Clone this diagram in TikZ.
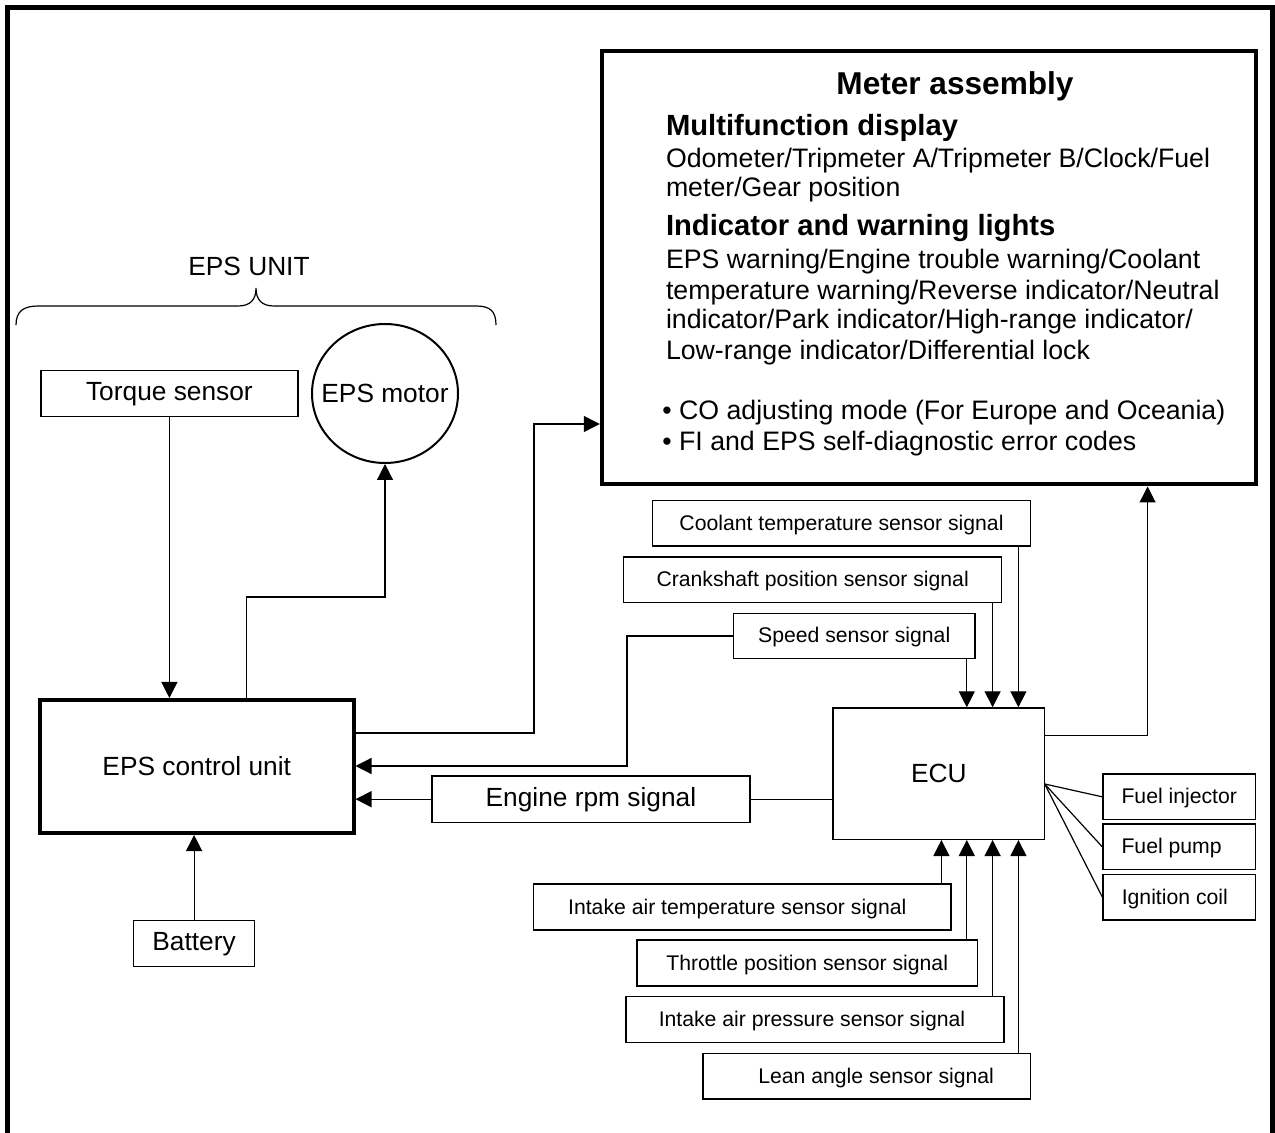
\documentclass[tikz,border=0pt]{standalone}
\usepackage{fontspec}
\setmainfont{Liberation Sans}
\usetikzlibrary{arrows.meta,shapes.geometric}
\newcommand\szbig{\fontsize{13.15}{15}\selectfont}
\newcommand\szsmall{\fontsize{10.6}{12}\selectfont}
\newcommand\szbody{\fontsize{13.35}{15}\selectfont}
\newcommand\szhead{\fontsize{14.6}{17}\selectfont\bfseries}
\newcommand\sztitle{\fontsize{15.8}{18}\selectfont\bfseries}
\begin{document}
\begin{tikzpicture}[x=0.5pt,y=-0.5pt,
  arr/.style={line width=0.6pt,-{Triangle[length=8pt,width=8pt]}},
  conn/.style={line width=0.6pt},
  sbox/.style={draw,line width=0.7pt,inner sep=0pt,text height=0.85em,text depth=0.15em,font=\szsmall,minimum height=22.75pt},
  bbox/.style={draw,line width=0.7pt,inner sep=0pt,text height=0.85em,text depth=0.15em,font=\szbig,minimum height=23pt},
  thickbox/.style={draw,line width=2pt,inner sep=0pt},
  mtext/.style={anchor=base west,inner sep=0pt,font=\szbody},
  mhead/.style={anchor=base west,inner sep=0pt,font=\szhead},
]
\useasboundingbox (0,0) rectangle (1275,1133);
% outer frame
\draw[line width=2.5pt] (7.5,1133) -- (7.5,7.5) -- (1272.5,7.5) -- (1272.5,1133);

% EPS unit brace
\node[font=\szbig,inner sep=0pt] (unit) at (249,266) {EPS UNIT};
\draw[line width=0.6pt] (16,325) .. controls (16,311) and (24,306) .. (38,306) -- (238,306)
  .. controls (250,306) and (256,300) .. (256,288)
  .. controls (256,300) and (262,306) .. (274,306) -- (476,306)
  .. controls (490,306) and (496,311) .. (496,325);

% left side nodes
\node[bbox,minimum width=128.6pt] (torque) at (169.4,393.7) {Torque sensor};
\node[draw,ellipse,line width=1pt,minimum width=73pt,minimum height=69.5pt,inner sep=0pt] (motor) at (385,393.5) {};
\node[font=\szbig,inner sep=0pt] (motortext) at (motor.center) {EPS motor};
\node[thickbox,minimum width=156.75pt,minimum height=66.5pt,font=\szbig,text height=0.95em,text depth=0.05em] (epsctl) at (196.75,766.5) {EPS control unit};
\node[bbox,minimum width=60.6pt] (battery) at (194.1,943.7) {Battery};

% meter assembly
\node[thickbox,minimum width=327.1pt,minimum height=216.9pt] (meter) at (928.9,267.6) {};
\node[font=\sztitle,anchor=base,inner sep=0pt] (mtitle) at (955,95) {Meter assembly};
\node[mhead] (mh1) at (665.6,136) {Multifunction display};
\node[mtext] (m1) at (665.6,167.3) {Odometer/Tripmeter A/Tripmeter B/Clock/Fuel};
\node[mtext] (m2) at (665.6,196.7) {meter/Gear position};
\node[mhead] (mh2) at (665.6,236) {Indicator and warning lights};
\node[mtext] (m3) at (665.6,269) {EPS warning/Engine trouble warning/Coolant};
\node[mtext] (m4) at (665.6,299.3) {temperature warning/Reverse indicator/Neutral};
\node[mtext] (m5) at (665.6,329) {indicator/Park indicator/High-range indicator/};
\node[mtext] (m6) at (665.6,360) {Low-range indicator/Differential lock};
\node[mtext] (m7) at (662,420) {• CO adjusting mode (For Europe and Oceania)};
\node[mtext] (m8) at (662,450.7) {• FI and EPS self-diagnostic error codes};

% sensors above ECU
\node[sbox,minimum width=189pt] (coolant) at (841.5,523.35) {Coolant temperature sensor signal};
\node[sbox,minimum width=189pt] (crank) at (812.65,579.8) {Crankshaft position sensor signal};
\node[sbox,minimum width=120.8pt] (speed) at (854.2,636) {Speed sensor signal};

% ECU and rpm
\node[draw,line width=0.7pt,minimum width=105.9pt,minimum height=65.65pt,font=\szbig,inner sep=0pt] (ecu) at (938.8,773.65) {ECU};
\node[bbox,minimum width=158.9pt] (rpm) at (590.9,799.2) {Engine rpm signal};

% actuators
\node[sbox,minimum width=76.2pt] (injector) at (1179,796.8) {\makebox[57.5pt][l]{Fuel injector}};
\node[sbox,minimum width=76.2pt] (pump) at (1179,846.65) {\makebox[57.5pt][l]{Fuel pump}};
\node[sbox,minimum width=76.2pt] (ignition) at (1179.3,897.15) {\makebox[57.5pt][l]{Ignition coil}};

% sensors below ECU
\node[sbox,minimum width=208.75pt,minimum height=23pt] (iat) at (742.25,907) {Intake air temperature sensor signal\hspace*{5pt}};
\node[sbox,minimum width=170.2pt,minimum height=23pt] (tps) at (807.2,963) {Throttle position sensor signal};
\node[sbox,minimum width=189pt,minimum height=23pt] (map) at (814.95,1019.7) {Intake air pressure sensor signal\hspace*{3pt}};
\node[sbox,minimum width=163.65pt] (lean) at (866.65,1076.15) {\hspace*{9.5pt}Lean angle sensor signal};

% helper coordinates
\coordinate (x1) at (941.4,0);
\coordinate (x2) at (966.8,0);
\coordinate (x3) at (992.6,0);
\coordinate (x4) at (1018.4,0);
\coordinate (ja) at (534,424);
\coordinate (jb) at (534,733);
\coordinate (sa) at (627,636);
\coordinate (sb) at (627,766);
\coordinate (ma) at (246.5,597);
\coordinate (mb) at (385,597);
\coordinate (ea) at (1147.6,735.7);
\coordinate (fo) at (1044.7,784);

% connectors left
\draw[arr] (torque.south) -- (epsctl.north -| torque.south);
\draw[arr] (battery.north) -- (epsctl.south -| battery.north);
\draw[arr] (epsctl.north -| ma) -- (ma) -- (mb) -- (motor.south);
\draw[arr] (epsctl.east |- jb) -- (jb) -- (ja) -- (meter.west |- ja);
\draw[arr] (speed.west) -- (sa) -- (sb) -- (epsctl.east |- sb);
\draw[arr] (rpm.west) -- (epsctl.east |- rpm.west);
\draw[conn] (ecu.west |- rpm.east) -- (rpm.east);

% ECU connectors
\draw[arr] (speed.south -| x2) -- (ecu.north -| x2);
\draw[arr] (crank.south -| x3) -- (ecu.north -| x3);
\draw[arr] (coolant.south -| x4) -- (ecu.north -| x4);
\draw[arr] (iat.north -| x1) -- (ecu.south -| x1);
\draw[arr] (tps.north -| x2) -- (ecu.south -| x2);
\draw[arr] (map.north -| x3) -- (ecu.south -| x3);
\draw[arr] (lean.north -| x4) -- (ecu.south -| x4);
\draw[arr] (ecu.east |- ea) -- (ea) -- (meter.south -| ea);
\draw[conn] (fo) -- (injector.west);
\draw[conn] (fo) -- (pump.west);
\draw[conn] (fo) -- (ignition.west);
\end{tikzpicture}
\end{document}
